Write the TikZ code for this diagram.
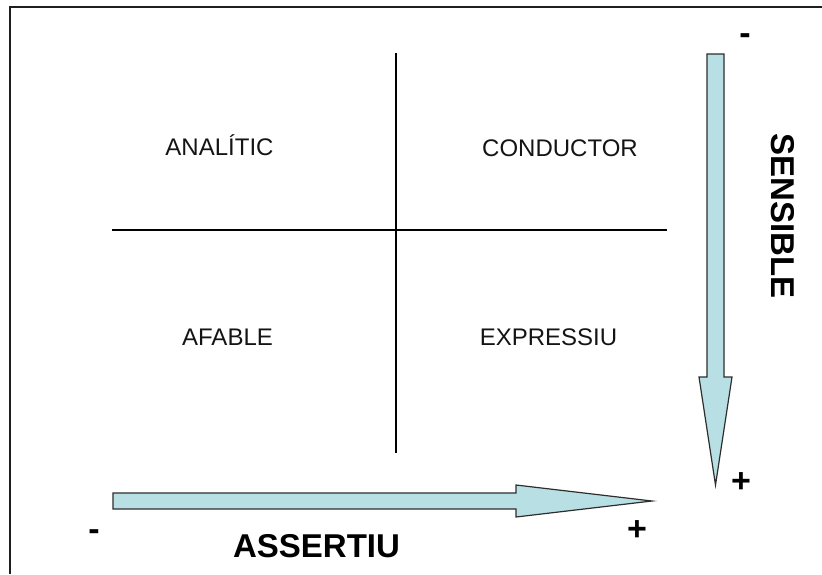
\documentclass[tikz,border=0pt]{standalone}
\usepackage{fontspec}
\setmainfont{Liberation Sans}
\definecolor{arrowfill}{RGB}{184,224,228}
\definecolor{arrowline}{RGB}{45,45,45}
\tikzset{
  quadlabel/.style={anchor=base,text=black!92,font=\fontsize{24}{28}\selectfont},
  axislabel/.style={font=\bfseries\fontsize{33}{37}\selectfont},
  signlabel/.style={anchor=base,font=\bfseries\fontsize{34}{38}\selectfont},
  fatarrow/.style={fill=arrowfill,draw=arrowline,line width=1.2pt,line join=miter},
}

\begin{document}
\begin{tikzpicture}[x=1pt,y=-1pt]
\useasboundingbox (0,0) rectangle (822,574);
%---------------- frame (only top and left edges show)
\draw[line width=2pt,black!88] (10,574) -- (10,7) -- (822,7);

%---------------- quadrant cross
\coordinate (qtop)   at (396,53);
\coordinate (qbot)   at (396,453);
\coordinate (qleft)  at (112,230);
\coordinate (qright) at (667,230);
\draw[line width=1.1pt] (qtop) -- (qbot);
\draw[line width=1.1pt] (qleft) -- (qright);

% styles in each quadrant
\node[quadlabel] (analitic)  at (219.5,155) {ANALÍTIC};
\node[quadlabel] (conductor) at (560,156)   {CONDUCTOR};
\node[quadlabel] (afable)    at (227.5,345) {AFABLE};
\node[quadlabel] (expressiu) at (548.5,345) {EXPRESSIU};

%---------------- vertical arrow: sensible
\draw[fatarrow] (707,54) -- (724,54) -- (724,377) -- (732,377)
  -- (715.5,485) -- (699,377) -- (707,377) -- cycle;
\node[axislabel,rotate=-90] (sensible) at (783,216) {SENSIBLE};
\node[signlabel] (sensminus) at (745,44.5)  {-};
\node[signlabel] (sensplus)  at (741,492.4) {+};

%---------------- horizontal arrow: assertiu
\draw[fatarrow] (113,493) -- (516,493) -- (516,485) -- (652,501)
  -- (516,517) -- (516,509) -- (113,509) -- cycle;
\node[axislabel,anchor=base] (assertiu) at (316.5,557) {ASSERTIU};
\node[signlabel] (assminus) at (94,540.7)  {-};
\node[signlabel] (assplus)  at (637,540.4) {+};
\end{tikzpicture}
\end{document}
